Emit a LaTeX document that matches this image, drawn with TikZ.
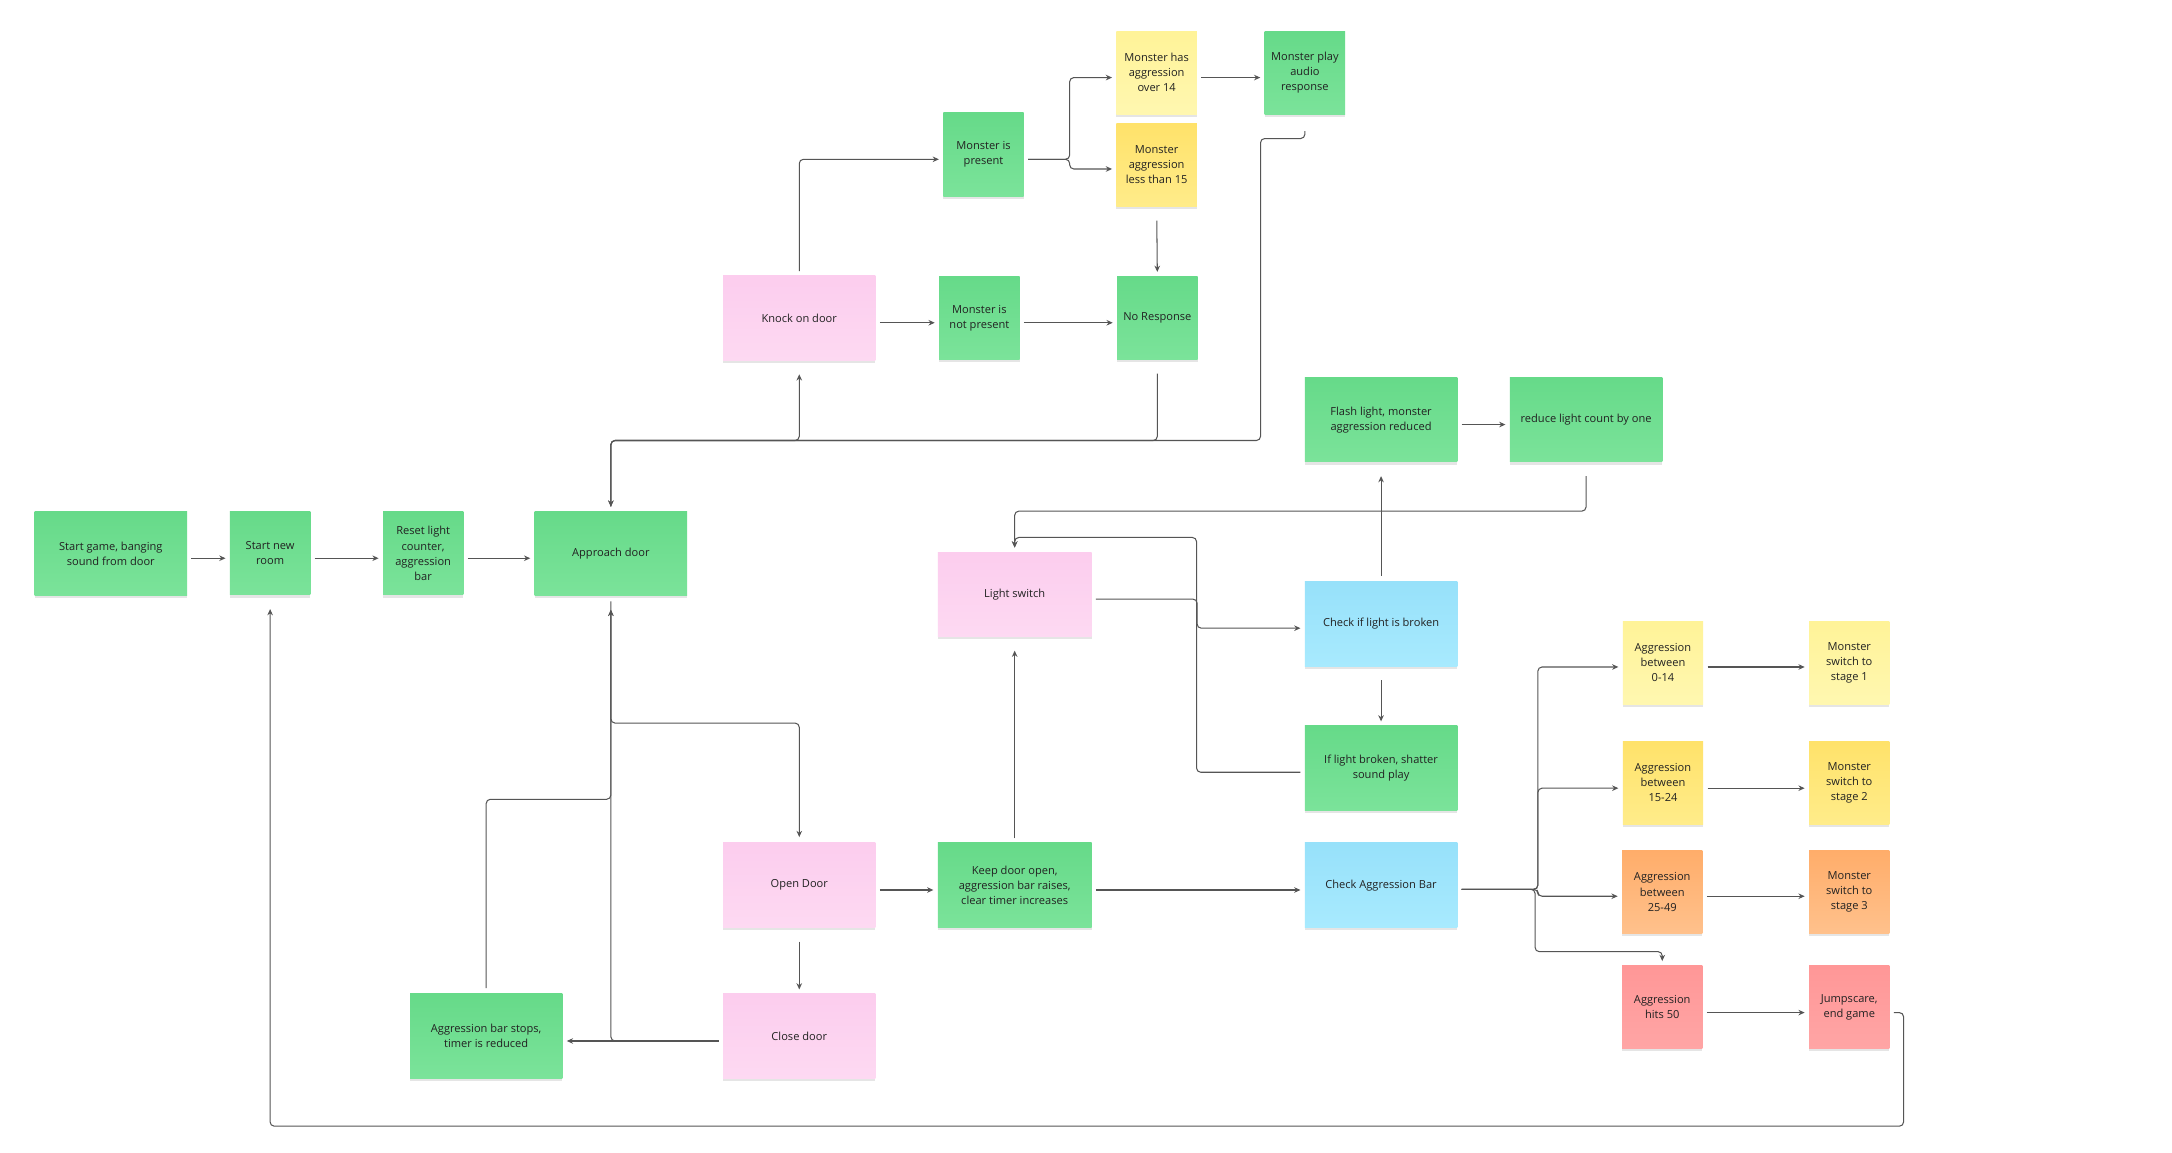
\documentclass[tikz,border=0pt]{standalone}
\usepackage{fontspec}
\setmainfont{Open Sans}
\usetikzlibrary{arrows.meta,shadows,calc}
\definecolor{lineGray}{HTML}{555555}
\definecolor{txt}{HTML}{222222}
\begin{document}
\begin{tikzpicture}[x=1pt,y=-1pt,
  sticky/.style={draw=none, align=center, text=txt, inner sep=2pt,
    font=\fontsize{8}{10.9}\selectfont,
    drop shadow={shadow xshift=0pt, shadow yshift=-2pt, opacity=0.10, fill=black}},
  wide/.style={sticky, minimum width=110pt, minimum height=61pt},
  narrow/.style={sticky, minimum width=58pt, minimum height=60pt},
  gr/.style={top color=gTop, bottom color=gBot},
  pk/.style={top color=pTop, bottom color=pBot},
  ly/.style={top color=lyTop, bottom color=lyBot},
  yl/.style={top color=yTop, bottom color=yBot},
  orn/.style={top color=oTop, bottom color=oBot},
  rd/.style={top color=rTop, bottom color=rBot},
  bl/.style={top color=bTop, bottom color=bBot},
  conn/.style={draw=lineGray, line width=0.75pt, rounded corners=3pt},
  arr/.style={conn, -{Stealth[length=4.5pt,width=4pt]}, shorten >=3pt, shorten <=3pt},
]
\definecolor{gTop}{HTML}{66DA89}\definecolor{gBot}{HTML}{7BE39A}
\definecolor{pTop}{HTML}{FCCDEE}\definecolor{pBot}{HTML}{FDD9F2}
\definecolor{lyTop}{HTML}{FFF398}\definecolor{lyBot}{HTML}{FFF7B0}
\definecolor{yTop}{HTML}{FFE26A}\definecolor{yBot}{HTML}{FFEC8A}
\definecolor{oTop}{HTML}{FFAD6A}\definecolor{oBot}{HTML}{FFC18C}
\definecolor{rTop}{HTML}{FF9797}\definecolor{rBot}{HTML}{FFA5A5}
\definecolor{bTop}{HTML}{97E1FA}\definecolor{bBot}{HTML}{A8EAFE}
\useasboundingbox[fill=white] (0,0) rectangle (1568,832);

% nodes
\node[wide,gr] (start) at (80,399.5) {Start game, banging\\sound from door};
\node[narrow,gr] (newroom) at (195,399.5) {Start new\\room};
\node[narrow,gr] (reset) at (305.5,399.5) {Reset light\\counter,\\aggression\\bar};
\node[wide,gr] (approach) at (441,399.5) {Approach door};
\node[wide,pk] (knock) at (577,229.5) {Knock on door};
\node[narrow,gr] (present) at (710,111.5) {Monster is\\present};
\node[narrow,gr] (notpresent) at (707,229.5) {Monster is\\not present};
\node[narrow,ly] (over14) at (835,52.5) {Monster has\\aggression\\over 14};
\node[narrow,yl] (less15) at (835,119) {Monster\\aggression\\less than 15};
\node[narrow,gr] (audio) at (942,52.5) {Monster play\\audio\\response};
\node[narrow,gr] (noresp) at (835.5,229.5) {No Response};
\node[wide,gr] (flash) at (997,303) {Flash light, monster\\aggression reduced};
\node[wide,gr] (reduce) at (1145,303) {reduce light count by one};
\node[wide,pk,minimum width=111pt] (lightsw) at (732.5,429) {Light switch};
\node[wide,bl] (checklight) at (997,450.5) {Check if light is broken};
\node[wide,gr] (shatter) at (997,554.5) {If light broken, shatter\\sound play};
\node[wide,pk] (open) at (577,639) {Open Door};
\node[wide,gr,minimum width=111pt] (keep) at (732.5,639) {Keep door open,\\aggression bar raises,\\clear timer increases};
\node[wide,bl] (checkagg) at (997,639) {Check Aggression Bar};
\node[wide,pk] (close) at (577,748) {Close door};
\node[wide,gr] (stops) at (351,748) {Aggression bar stops,\\timer is reduced};
\node[narrow,ly] (a014) at (1200.5,478.5) {Aggression\\between\\0-14};
\node[narrow,ly] (s1) at (1335,478.5) {Monster\\switch to\\stage 1};
\node[narrow,yl] (a1524) at (1200.5,565) {Aggression\\between\\15-24};
\node[narrow,yl] (s2) at (1335,565) {Monster\\switch to\\stage 2};
\node[narrow,orn] (a2549) at (1200,644) {Aggression\\between\\25-49};
\node[narrow,orn] (s3) at (1335,644) {Monster\\switch to\\stage 3};
\node[narrow,rd] (a50) at (1200,727) {Aggression\\hits 50};
\node[narrow,rd] (jump) at (1335,727) {Jumpscare,\\end game};

% helper coordinates
\coordinate (bus) at (0,318);
\coordinate (j1) at (910,100);
\coordinate (b2) at (0,522);
\coordinate (b3) at (0,577);
\coordinate (b4) at (0,388);
\coordinate (b5) at (0,369);
\coordinate (b6) at (0,687);
\coordinate (b7) at (0,813);

% connectors: main row
\draw[arr] ([yshift=-3.5pt]start.east) -- ([yshift=-3.5pt]newroom.west);
\draw[arr] ([yshift=-3.5pt]newroom.east) -- ([yshift=-3.5pt]reset.west);
\draw[arr] ([yshift=-3.5pt]reset.east) -- ([yshift=-3.5pt]approach.west);

% top loop
\draw[arr, shorten <=12pt] (audio.south) |- (j1) -- (j1 |- bus) -| (approach.north);
\draw[arr, shorten <=10pt] (noresp.south) -- (noresp.south |- bus) -| (approach.north);
\draw[arr, shorten >=10pt] (approach.north) -- (approach.north |- bus) -| (knock.south);
\draw[arr] (knock.north) |- ([yshift=-3.5pt]present.west);
\draw[arr] ([yshift=-3.5pt]knock.east) -- ([yshift=-3.5pt]notpresent.west);
\draw[arr] ([yshift=-3.5pt]notpresent.east) -- ([yshift=-3.5pt]noresp.west);
\draw[arr] ([yshift=-3.5pt]present.east) -- ++(33,0) |- ([yshift=-3.5pt]over14.west);
\draw[arr] ([yshift=-3.5pt]present.east) -- ++(33,0) |- ([yshift=-3pt]less15.west);
\draw[arr] ([yshift=-3.5pt]over14.east) -- ([yshift=-3.5pt]audio.west);
\draw[arr, shorten <=10pt] (less15.south) -- (noresp.north);

% door section
\draw[arr, shorten <=4pt, shorten >=4pt] (approach.south) -- (approach.south |- b2) -| (open.north);
\draw[arr, shorten <=4pt, shorten >=10pt] (stops.north) -- (stops.north |- b3) -| (approach.south);
\draw[arr, shorten >=10pt] ([yshift=-3.5pt]close.west) -| (approach.south);
\draw[arr] ([yshift=-3.5pt]close.west) -- ([yshift=-3.5pt]stops.east);
\draw[arr, shorten <=10pt] (open.south) -- (close.north);
\draw[arr] ([yshift=-3.5pt]open.east) -- ([yshift=-3.5pt]keep.west);
\draw[arr, shorten >=10pt] (keep.north) -- (lightsw.south);
\draw[arr] ([yshift=-3.5pt]keep.east) -- ([yshift=-3.5pt]checkagg.west);

% light section
\draw[arr] ([yshift=-3.5pt]lightsw.east) -- ++(76,0) |- ([yshift=-3pt]checklight.west);
\draw[arr] ([yshift=-3pt]shatter.west) -- ++(-78,0) |- (lightsw.north |- b4) -- (lightsw.north);
\draw[arr, shorten <=10pt] (reduce.south) -- (reduce.south |- b5) -| (lightsw.north);
\draw[arr, shorten <=10pt] (checklight.south) -- (shatter.north);
\draw[arr, shorten <=4pt, shorten >=10pt] (checklight.north) -- (flash.south);
\draw[arr] ([yshift=-3.5pt]flash.east) -- ([yshift=-3.5pt]reduce.west);

% aggression section
\draw[arr] ([yshift=-3pt]checkagg.east) -- ++(58,0) |- ([yshift=-3pt]a014.west);
\draw[arr] ([yshift=-3pt]checkagg.east) -- ++(58,0) |- ([yshift=-4pt]a1524.west);
\draw[arr] ([yshift=-3pt]checkagg.east) -- ++(58,0) |- ([yshift=-3pt]a2549.west);
\draw[arr] ([yshift=-3pt]checkagg.east) -- ++(56,0) |- (a50.north |- b6) -- (a50.north);
\draw[arr] ([yshift=-3pt]a014.east) -- ([yshift=-3pt]s1.west);
\draw[arr] ([yshift=-4pt]a1524.east) -- ([yshift=-4pt]s2.west);
\draw[arr] ([yshift=-3pt]a2549.east) -- ([yshift=-3pt]s3.west);
\draw[arr] ([yshift=-4pt]a50.east) -- ([yshift=-4pt]jump.west);
\draw[arr, shorten >=10pt] ([yshift=-4pt]jump.east) -- ++(10,0) |- (newroom.south |- b7) -- (newroom.south);
\end{tikzpicture}
\end{document}
